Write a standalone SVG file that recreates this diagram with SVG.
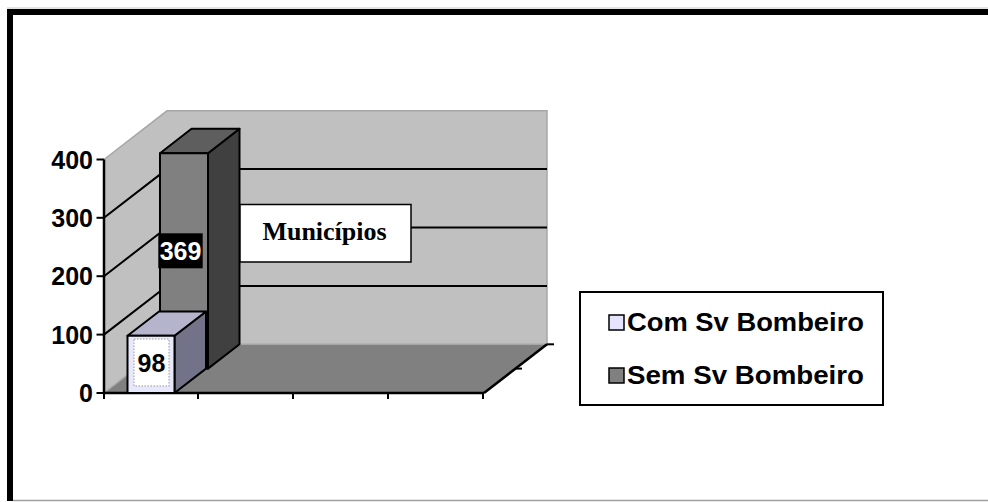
<svg xmlns="http://www.w3.org/2000/svg" width="988" height="502" viewBox="0 0 988 502">
  <style>
    .wall { fill: #c0c0c0; }
    .floor { fill: #808080; }
    .edge { fill: none; stroke: #a6a6a6; stroke-width: 1.5; }
    .grid { fill: none; stroke: #000; stroke-width: 2; }
    .axis { fill: none; stroke: #000; stroke-width: 2.5; }
    .tick { stroke: #000; stroke-width: 2; }
    .bar { stroke: #000; stroke-width: 2; stroke-linejoin: round; }
    .num { font-family: "Liberation Sans", Arial, sans-serif; font-weight: bold; font-size: 25px; fill: #000; }
    .lab { font-family: "Liberation Sans", Arial, sans-serif; font-weight: bold; font-size: 25px; }
    .key { font-family: "Liberation Sans", Arial, sans-serif; font-weight: bold; font-size: 26px; fill: #000; }
    .title { font-family: "Liberation Serif", "Times New Roman", serif; font-weight: bold; font-size: 26px; fill: #000; }
  </style>

  <rect x="0" y="0" width="988" height="502" fill="#fff"/>

  <!-- chart frame -->
  <g id="frame">
    <line x1="7" y1="8" x2="988" y2="8" stroke="#c8c8c8" stroke-width="1"/>
    <line x1="7" y1="12" x2="988" y2="12" stroke="#000" stroke-width="6"/>
    <line x1="10" y1="9" x2="10" y2="501" stroke="#000" stroke-width="6"/>
    <line x1="13" y1="500.5" x2="988" y2="500.5" stroke="#a0a0a0" stroke-width="1.5"/>
  </g>

  <!-- plot area: walls and floor -->
  <g id="plot-area">
    <polygon class="wall" points="104,159.5 167,110.8 167,344.3 104,393"/>
    <polygon class="wall" points="167,110.8 547,110.8 547,344.3 167,344.3"/>
    <polygon class="floor" points="104,393 167,344.3 547,344.3 484,393"/>
    <path class="edge" d="M104,159.5 L167,110.8 L547,110.8 L547,344.3 L167,344.3 L104,393"/>
  </g>

  <!-- gridlines -->
  <g id="gridlines">
    <path class="grid" d="M104,334.6 L167,285.9 L547,285.9"/>
    <path class="grid" d="M104,276.2 L167,227.5 L547,227.5"/>
    <path class="grid" d="M104,217.8 L167,169.1 L547,169.1"/>
  </g>

  <!-- axes -->
  <g id="axes">
    <line class="axis" x1="104" y1="159.5" x2="104" y2="393"/>
    <line class="tick" x1="96.5" y1="159.5" x2="104" y2="159.5"/>
    <line class="tick" x1="96.5" y1="217.8" x2="104" y2="217.8"/>
    <line class="tick" x1="96.5" y1="276.2" x2="104" y2="276.2"/>
    <line class="tick" x1="96.5" y1="334.6" x2="104" y2="334.6"/>
    <line class="tick" x1="96.5" y1="393" x2="104" y2="393"/>
    <line class="axis" x1="103" y1="393" x2="484" y2="393"/>
    <line class="tick" x1="198" y1="393" x2="198" y2="399"/>
    <line class="tick" x1="293" y1="393" x2="293" y2="399"/>
    <line class="tick" x1="388" y1="393" x2="388" y2="399"/>
    <line class="tick" x1="483" y1="393" x2="483" y2="399"/>
    <line class="tick" x1="104" y1="393" x2="104" y2="399"/>
    <line class="axis" x1="484" y1="393" x2="547" y2="344.3"/>
    <line class="tick" x1="547" y1="344.3" x2="554" y2="344.3"/>
    <line class="tick" x1="515.5" y1="368.6" x2="522" y2="368.6"/>
    <text class="num" x="93" y="168.5" text-anchor="end">400</text>
    <text class="num" x="93" y="226.8" text-anchor="end">300</text>
    <text class="num" x="93" y="285.2" text-anchor="end">200</text>
    <text class="num" x="93" y="343.6" text-anchor="end">100</text>
    <text class="num" x="93" y="402" text-anchor="end">0</text>
  </g>

  <!-- series: Sem Sv Bombeiro (369) -->
  <g id="bar-sem">
    <polygon class="bar" fill="#404040" points="208,153.2 239.5,128.8 239.5,344.3 208,368.6"/>
    <polygon class="bar" fill="#5e5e5e" points="160,153.2 191.5,128.8 239.5,128.8 208,153.2"/>
    <rect class="bar" fill="#808080" x="160" y="153.2" width="48" height="215.4"/>
    <rect x="158.3" y="233.3" width="44.4" height="35" fill="#000"/>
    <text class="lab" x="180.5" y="260" text-anchor="middle" fill="#fff">369</text>
  </g>

  <!-- series: Com Sv Bombeiro (98) -->
  <g id="bar-com">
    <polygon class="bar" fill="#727288" points="174.5,335.8 206,311.5 206,368.6 174.5,393"/>
    <polygon class="bar" fill="#b4b4cc" points="127.5,335.8 159,311.5 206,311.5 174.5,335.8"/>
    <rect class="bar" fill="#e8e8fc" x="127.5" y="335.8" width="47" height="57.2"/>
    <rect x="134" y="339" width="35" height="47" fill="#fff" stroke="#b8b8b8" stroke-width="1.5" stroke-dasharray="1.5 1.5"/>
    <text class="lab" x="151.5" y="371.7" text-anchor="middle" fill="#000">98</text>
  </g>

  <!-- category label -->
  <g id="label-municipios">
    <rect x="240" y="204.5" width="171" height="57.5" fill="#fff" stroke="#000" stroke-width="1.5"/>
    <text class="title" x="324.5" y="239.5" text-anchor="middle">Municípios</text>
  </g>

  <!-- legend -->
  <g id="legend">
    <rect x="580" y="292" width="303" height="113" fill="#fff" stroke="#000" stroke-width="2"/>
    <rect x="609" y="315" width="15" height="15" fill="#e4e4fc" stroke="#000" stroke-width="1.5"/>
    <text class="key" x="627" y="331" textLength="237" lengthAdjust="spacingAndGlyphs">Com Sv Bombeiro</text>
    <rect x="609" y="368" width="15" height="15" fill="#808080" stroke="#000" stroke-width="1.5"/>
    <text class="key" x="627" y="384" textLength="237" lengthAdjust="spacingAndGlyphs">Sem Sv Bombeiro</text>
  </g>
</svg>
